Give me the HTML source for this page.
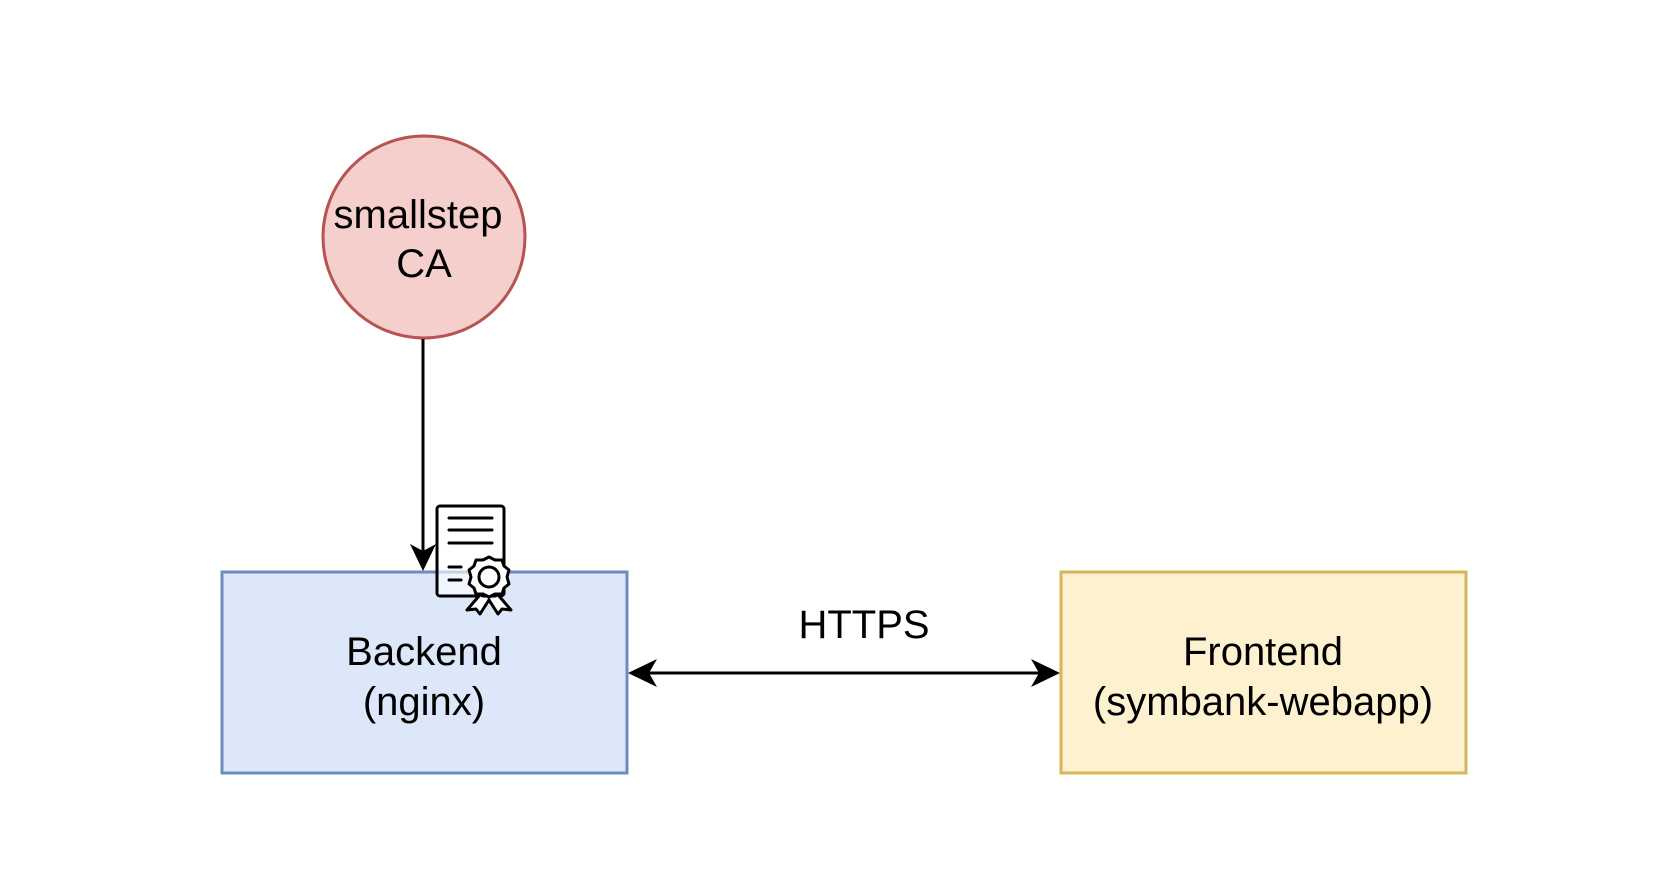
<!DOCTYPE html>
<html><head><meta charset="utf-8"><style>
html,body{margin:0;padding:0;background:#fff;width:1678px;height:876px;overflow:hidden}
svg text{font-family:"Liberation Sans",Arial,sans-serif;font-size:40px;fill:#000;text-anchor:middle}
</style></head><body>
<svg width="1678" height="876" viewBox="0 0 1678 876" xmlns="http://www.w3.org/2000/svg">
<circle cx="424" cy="237" r="101" fill="#f4cfcc" stroke="#b85450" stroke-width="3"/>
<text x="418" y="228">smallstep</text>
<text x="424" y="277">CA</text>
<rect x="222" y="572" width="405" height="201" fill="#dce7f9" stroke="#6c8ebf" stroke-width="3"/>
<text x="424" y="665">Backend</text>
<text x="424" y="715">(nginx)</text>
<rect x="1061" y="572" width="405" height="201" fill="#fdf1cf" stroke="#d6b656" stroke-width="3"/>
<text x="1263" y="665">Frontend</text>
<text x="1263" y="715">(symbank-webapp)</text>
<line x1="423" y1="339" x2="423" y2="560" stroke="#000" stroke-width="3"/>
<path d="M423 571 L410 544 L423 551 L436 544 Z" fill="#000"/>
<line x1="640" y1="673" x2="1048" y2="673" stroke="#000" stroke-width="3"/>
<path d="M628 673 L657 659 L649 673 L657 687 Z" fill="#000"/>
<path d="M1060 673 L1031 659 L1039 673 L1031 687 Z" fill="#000"/>
<text x="864" y="638">HTTPS</text>
<g stroke="#000" stroke-width="3" fill="none" stroke-linecap="round">
<rect x="437" y="506" width="67" height="90" rx="3" fill="#fff" fill-opacity="0.6"/>
<line x1="449" y1="518" x2="492" y2="518"/>
<line x1="449" y1="530" x2="492" y2="530"/>
<line x1="449" y1="543" x2="492" y2="543"/>
<line x1="449" y1="567" x2="461" y2="567"/>
<line x1="449" y1="580" x2="461" y2="580"/>
<path d="M479 596 L467 610 L476 609 L480 614 L489 600" fill="#fff" stroke-linejoin="round"/>
<path d="M499 596 L511 610 L502 609 L498 614 L489 600" fill="#fff" stroke-linejoin="round"/>
<path d="M489 557 l6 3 7 0 2 6 5 4 -2 7 2 7 -5 4 -2 6 -7 0 -6 3 -6 -3 -7 0 -2 -6 -5 -4 2 -7 -2 -7 5 -4 2 -6 7 0 z" fill="#fff" stroke-linejoin="round"/>
<circle cx="489" cy="577" r="10"/>
</g>
</svg>
</body></html>
